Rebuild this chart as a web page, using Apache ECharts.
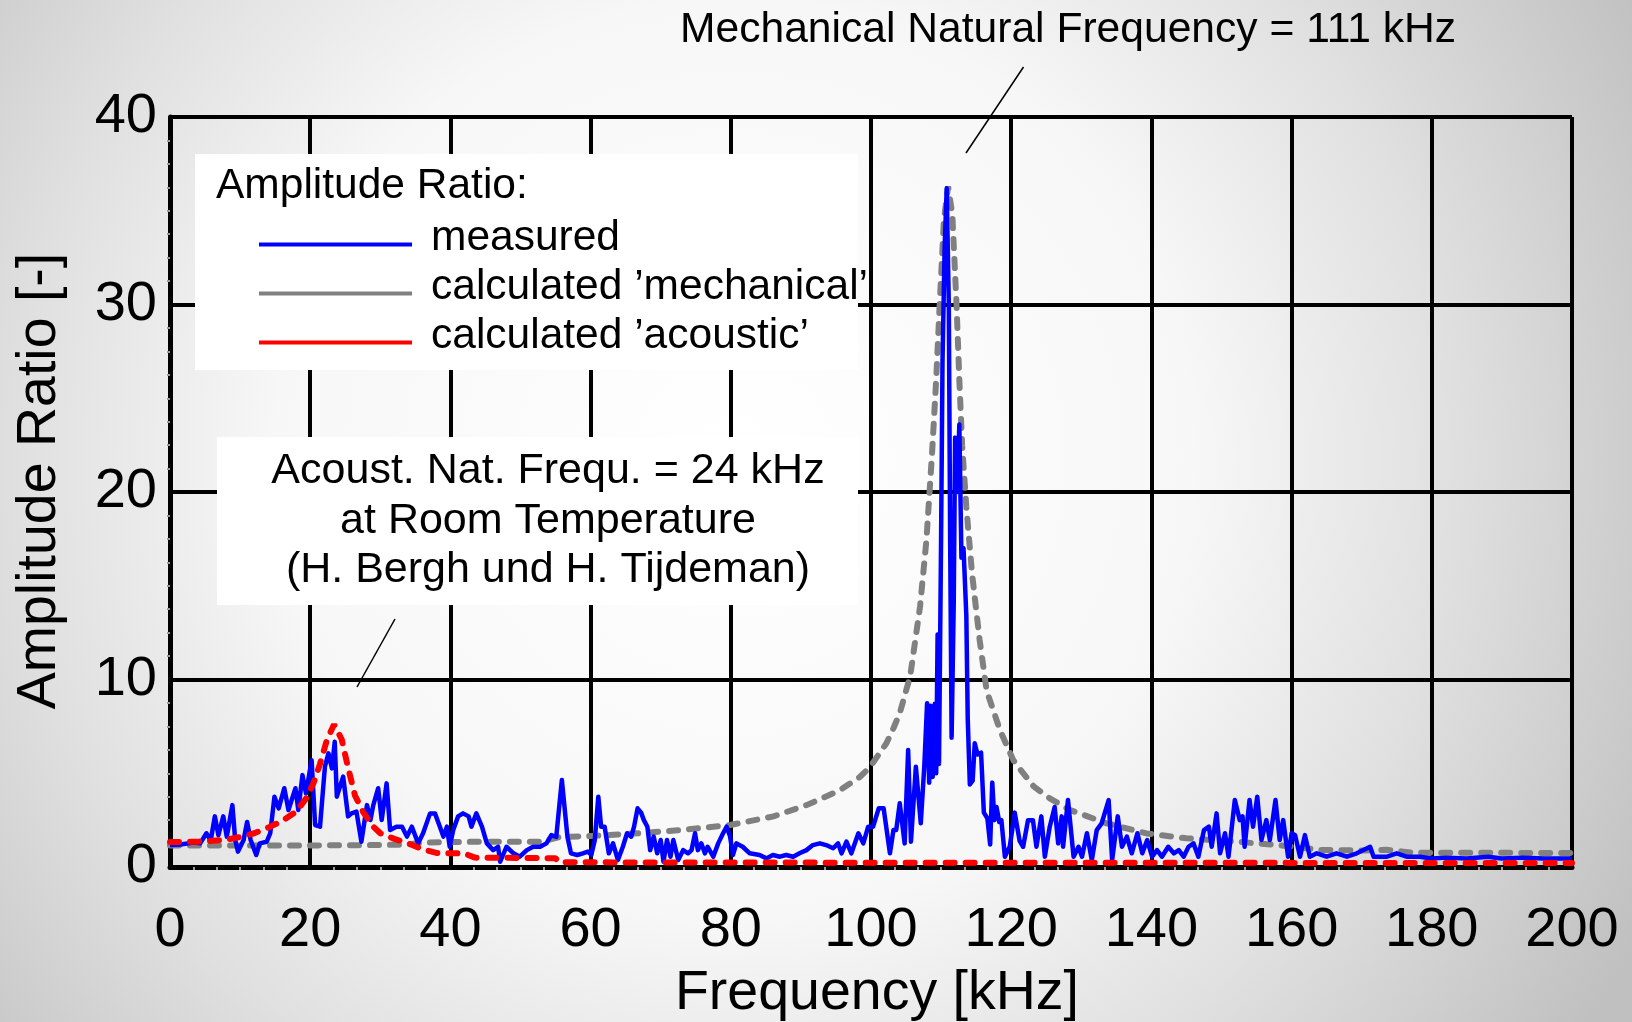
<!DOCTYPE html>
<html>
<head>
<meta charset="utf-8">
<script src="https://cdn.jsdelivr.net/npm/echarts@6/dist/echarts.min.js"></script>
<style>
html,body{margin:0;padding:0;}
#chart{width:1632px;height:1022px;}
</style>
</head>
<body>
<div id="chart"></div>
<script>
// ---- axes ----
const X_MIN = 0, X_MAX = 200, X_STEP = 20;
const Y_MIN = 0, Y_MAX = 40, Y_STEP = 10;
const xTitle = 'Frequency [kHz]';
const yTitle = 'Amplitude Ratio [-]';

// ---- series names ----
const legendTitle = 'Amplitude Ratio:';
const nameMeasured = 'measured';
const nameMech = 'calculated \u2019mechanical\u2019';
const nameAcou = 'calculated \u2019acoustic\u2019';

// ---- data: [frequency kHz, amplitude ratio] ----
const measured = [[0,1.17],[1.5,1.2],[3.3,1.3],[4.3,1.26],[5.2,1.8],[5.8,1.4],[6.4,2.7],[6.9,1.7],[7.6,2.7],[8.1,1.62],[8.9,3.3],[9.3,1.44],[9.7,0.82],[10.5,1.44],[11.0,2.4],[11.5,1.44],[12.3,0.64],[12.8,1.26],[13.8,1.35],[14.3,1.8],[14.9,3.75],[15.5,3.13],[16.3,4.2],[16.9,3.04],[17.9,4.2],[18.3,3.04],[18.9,4.9],[19.4,3.93],[20.2,5.7],[20.7,2.24],[21.4,2.15],[22.1,5.35],[22.6,6.06],[23.1,5.26],[23.5,6.68],[23.8,3.75],[24.7,4.82],[25.4,2.7],[25.9,2.86],[26.6,2.95],[27.3,1.35],[28.1,3.3],[28.6,2.51],[29.0,3.3],[29.7,4.2],[30.2,2.51],[30.9,4.46],[31.4,1.97],[32.3,2.15],[33.1,2.15],[33.8,1.62],[34.5,2.15],[35.4,1.26],[36.1,1.8],[37.1,2.86],[37.8,2.86],[38.5,2.15],[39.0,1.62],[39.5,2.15],[39.9,1.08],[40.4,1.97],[41.1,2.7],[41.8,2.86],[42.6,2.7],[43.0,2.15],[43.7,2.86],[44.5,2.15],[45.2,1.26],[46.1,0.9],[46.8,1.08],[47.1,0.28],[48.0,1.08],[49.0,0.73],[49.9,0.55],[50.9,0.9],[51.8,1.08],[52.8,1.08],[53.7,1.26],[54.4,1.7],[55.1,1.6],[55.9,4.64],[56.7,1.6],[57.2,0.73],[58.1,0.64],[58.9,0.73],[59.6,0.82],[60.1,0.64],[60.6,1.44],[61.1,3.75],[61.5,2.15],[62.0,2.15],[62.6,0.73],[63.2,1.26],[63.9,0.37],[64.6,1.08],[65.2,1.8],[65.8,1.62],[66.2,2.15],[66.7,3.13],[67.2,2.9],[67.6,2.5],[68.1,2.15],[68.5,0.9],[69.0,1.62],[69.5,0.73],[70.0,1.44],[70.4,0.28],[70.9,1.44],[71.4,0.55],[71.8,1.44],[72.5,0.37],[73.2,0.9],[73.9,0.73],[74.4,0.9],[74.9,1.8],[75.3,0.9],[75.8,1.26],[76.3,0.73],[76.7,1.08],[77.5,0.55],[78.2,1.26],[78.9,1.8],[79.4,2.15],[79.9,1.62],[80.3,0.64],[80.8,1.26],[81.7,1.08],[82.7,0.73],[84.1,0.64],[85.1,0.46],[86.0,0.64],[87.0,0.55],[87.9,0.64],[88.9,0.55],[89.8,0.73],[90.8,0.9],[91.7,1.17],[92.7,1.26],[93.6,1.17],[94.6,1.0],[95.3,1.26],[95.8,0.73],[96.5,1.35],[97.2,0.73],[98.2,1.8],[98.9,1.26],[99.6,2.15],[100.3,2.15],[101.1,3.13],[101.8,3.13],[102.7,0.73],[103.2,1.97],[103.6,1.97],[104.1,3.4],[104.8,1.26],[105.3,6.24],[105.7,1.35],[106.4,5.35],[107.1,2.33],[107.6,5.35],[108.0,8.73],[108.3,4.5],[108.5,8.6],[108.8,4.8],[109.1,8.7],[109.3,5.0],[109.5,12.4],[109.7,5.5],[110.0,17.6],[110.2,26.9],[110.5,33],[110.8,36.2],[111.1,30],[111.3,17],[111.5,6.9],[111.8,14],[112.0,22.9],[112.3,20],[112.6,23.6],[112.9,16.5],[113.2,17],[113.6,13.4],[113.8,7.9],[114.1,4.4],[114.5,4.6],[114.8,6.6],[115.2,6.0],[115.7,6.1],[116.1,2.9],[116.6,2.6],[117.0,1.2],[117.3,4.5],[117.6,2.5],[117.9,3.2],[118.3,2.4],[118.6,2.5],[119.1,0.55],[119.8,1.1],[120.5,2.9],[121.2,1.4],[121.7,1.08],[122.4,2.5],[123.1,2.5],[123.6,1.08],[124.3,2.7],[124.8,0.55],[125.5,2.15],[126.2,3.2],[126.7,1.26],[127.2,2.7],[127.4,1.08],[128.1,3.57],[128.9,0.55],[129.6,1.08],[130.1,0.55],[130.8,1.8],[131.5,0.37],[132.2,1.97],[132.9,2.33],[133.9,3.57],[134.4,0.37],[135.2,2.7],[135.8,1.08],[136.5,1.62],[137.2,0.73],[138.0,1.8],[138.7,0.73],[139.4,1.44],[140.1,0.55],[140.8,0.9],[141.5,0.55],[142.4,1.08],[143.2,0.73],[143.9,0.9],[144.6,0.55],[145.3,1.08],[146.0,1.26],[146.7,0.55],[147.5,1.97],[148.2,2.15],[148.6,1.08],[149.3,2.86],[149.8,0.73],[150.5,1.8],[151.0,0.55],[151.9,3.57],[152.6,2.5],[153.0,2.7],[153.3,1.08],[154.0,3.57],[154.5,2.15],[155.1,3.75],[155.7,1.44],[156.4,2.5],[156.9,1.44],[157.7,3.57],[158.3,1.44],[158.8,2.5],[159.5,0.55],[160.0,1.8],[160.5,1.7],[161.2,0.55],[161.9,1.7],[162.6,0.55],[163.6,0.73],[165.0,0.55],[166.4,0.73],[167.9,0.55],[169.3,0.73],[171.2,1.08],[171.7,0.55],[173.6,0.55],[175.0,0.73],[176.4,0.55],[178.3,0.55],[180,0.45],[182,0.5],[185,0.45],[188,0.55],[190,0.45],[193,0.5],[196,0.45],[200,0.45]];

const mechanical = [[0,1.15],[10,1.15],[20,1.15],[30,1.17],[34,1.2],[36,1.3],[40,1.33],[45,1.35],[50,1.35],[53,1.35],[55.6,1.6],[60,1.65],[67,1.8],[72.8,1.97],[79.9,2.24],[86.1,2.7],[90.8,3.3],[95.6,4.1],[98.4,4.8],[99.9,5.35],[102.2,6.6],[103.2,7.4],[104.1,8.2],[105.6,10.2],[107,13.9],[107.9,17.4],[108.7,22],[109.3,26],[109.8,30],[110.4,34.5],[111,36.3],[111.6,34.8],[112.2,30],[112.6,26],[113,22.5],[113.6,19.2],[114.4,15.7],[115.5,12.1],[116.5,9.4],[118.4,7.3],[120.3,5.7],[121.3,5.2],[123.2,4.3],[125.5,3.66],[128.4,3.04],[133.6,2.33],[139.3,1.79],[145,1.53],[152.2,1.35],[159.3,1.12],[164,0.91],[170,0.88],[173.6,0.92],[177.4,0.76],[200,0.75]];

const acoustic = [[0,1.33],[4,1.35],[8,1.45],[10,1.6],[12,1.8],[14,2.1],[16,2.45],[18,2.95],[19.5,3.7],[20.5,4.5],[21.4,5.5],[22.4,6.8],[23.4,7.6],[24.5,6.8],[25.4,5.3],[26.4,3.8],[27.6,2.9],[29,2.15],[30,1.8],[32,1.5],[34,1.26],[36,0.95],[38,0.75],[42,0.72],[43.5,0.5],[55,0.47],[55.5,0.25],[100,0.23],[160,0.22],[200,0.22]];

// ---- annotation texts ----
const mechNote = 'Mechanical Natural Frequency = 111 kHz';
const acouNote = ['Acoust. Nat. Frequ. = 24 kHz', 'at Room Temperature', '(H. Bergh und H. Tijdeman)'];

const FONT = '"Liberation Sans", Arial, Helvetica, sans-serif';
const chart = echarts.init(document.getElementById('chart'), null, {renderer: 'canvas'});

const option = {
  animation: false,
  backgroundColor: {
    type: 'radial', x: 0.45, y: 0.45, r: 1.0,
    colorStops: [
      {offset: 0, color: '#ffffff'},
      {offset: 0.45, color: '#f7f7f7'},
      {offset: 0.7, color: '#e0e0e0'},
      {offset: 1, color: '#c0c0c0'}
    ]
  },
  textStyle: {fontFamily: FONT},
  grid: {left: 170, right: 60, top: 117, bottom: 155, containLabel: false, outerBoundsMode: 'none'},
  xAxis: {
    type: 'value', min: X_MIN, max: X_MAX, interval: X_STEP,
    axisLine: {show: true, onZero: false, lineStyle: {color: '#000', width: 5}},
    axisTick: {show: false},
    minorTick: {show: true, splitNumber: 6, length: 3, lineStyle: {color: '#999', width: 2}},
    splitLine: {show: true, lineStyle: {color: '#000', width: 4}},
    axisLabel: {fontSize: 56, color: '#000', margin: 36, fontFamily: FONT},
    name: xTitle, nameLocation: 'middle', nameGap: 99,
    nameTextStyle: {fontSize: 55.5, color: '#000', fontFamily: FONT, padding: [0, 0, 0, 12]}
  },
  yAxis: {
    type: 'value', min: Y_MIN, max: Y_MAX, interval: Y_STEP,
    axisLine: {show: true, onZero: false, lineStyle: {color: '#000', width: 5}},
    axisTick: {show: false},
    minorTick: {show: true, splitNumber: 8, length: 3, lineStyle: {color: '#999', width: 2}},
    splitLine: {show: true, lineStyle: {color: '#000', width: 4}},
    axisLabel: {fontSize: 56, color: '#000', margin: 13, fontFamily: FONT},
    name: yTitle, nameLocation: 'middle', nameGap: 102,
    nameTextStyle: {fontSize: 55.5, color: '#000', fontFamily: FONT, padding: [0, 0, 0, 22]}
  },
  legend: {
    data: [nameMeasured, nameMech, nameAcou],
    orient: 'vertical', left: 259, top: 217,
    itemWidth: 153, itemHeight: 16, itemGap: 6,
    icon: 'path://M0,0M0,12L153,12L153,16L0,16Z',
    padding: 0, selectedMode: false,
    itemStyle: {borderWidth: 0},
    textStyle: {fontSize: 42.5, color: '#000', fontFamily: FONT, lineHeight: 41, padding: [0, 0, 0, 14]},
    z: 6
  },
  graphic: [
    {type: 'rect', z: 1, shape: {x: 195, y: 154, width: 663, height: 216}, style: {fill: '#ffffff'}},
    {type: 'rect', z: 1, shape: {x: 217, y: 437, width: 641, height: 168}, style: {fill: '#ffffff'}},
    {type: 'text', z: 6, x: 216, y: 186, style: {text: legendTitle, font: '42.5px ' + FONT, fill: '#000', align: 'left', verticalAlign: 'middle'}},
    {type: 'text', z: 6, x: 548, y: 521, style: {text: acouNote.join('\n'), font: '43px ' + FONT, fill: '#000', align: 'center', verticalAlign: 'middle', lineHeight: 49.5}},
    {type: 'text', z: 6, x: 680, y: 30, style: {text: mechNote, font: '42.6px ' + FONT, fill: '#000', align: 'left', verticalAlign: 'middle'}},
    {type: 'line', z: 6, shape: {x1: 1023.5, y1: 67, x2: 966, y2: 153}, style: {stroke: '#000', lineWidth: 1.5}},
    {type: 'line', z: 6, shape: {x1: 395, y1: 619, x2: 357, y2: 687}, style: {stroke: '#000', lineWidth: 1.5}}
  ],
  series: [
    {
      name: nameMech, type: 'line', data: mechanical, z: 2,
      symbol: 'none', showSymbol: false,
      itemStyle: {color: '#808080'},
      lineStyle: {color: '#808080', width: 6, type: [9, 11], cap: 'round'}
    },
    {
      name: nameMeasured, type: 'line', data: measured, z: 3,
      symbol: 'none', showSymbol: false,
      itemStyle: {color: '#0000ff'},
      lineStyle: {color: '#0000ff', width: 4.5, join: 'round'}
    },
    {
      name: nameAcou, type: 'line', data: acoustic, z: 4,
      symbol: 'none', showSymbol: false,
      itemStyle: {color: '#ff0000'},
      lineStyle: {color: '#ff0000', width: 6, type: [9, 11], cap: 'round'}
    }
  ]
};
chart.setOption(option);
</script>
</body>
</html>
